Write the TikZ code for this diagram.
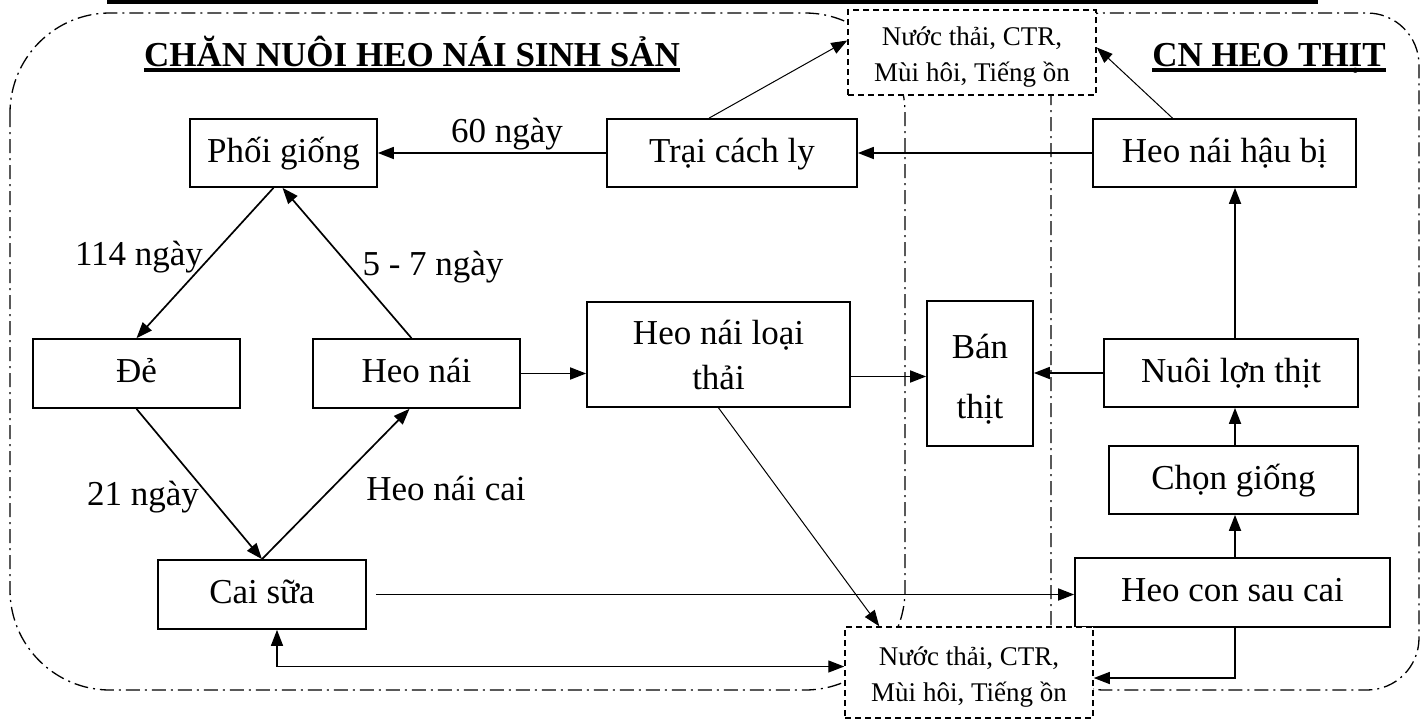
\documentclass[tikz,border=0pt]{standalone}
\usepackage{fontspec}
\setmainfont{Liberation Serif}
\usetikzlibrary{arrows.meta}
\begin{document}
\begin{tikzpicture}[x=1pt,y=-1pt,
  box/.style={draw, line width=1.7pt, fill=white, inner sep=0pt, font=\fontsize{35}{40}\selectfont, text height=26pt, text depth=8pt},
  mbox/.style={draw, line width=1.7pt, fill=white, inner sep=0pt, align=center},
  dbox/.style={draw, dash pattern=on 6pt off 4pt, line width=1.5pt, fill=white, inner sep=0pt, align=center, font=\fontsize{27}{36}\selectfont},
  region/.style={line width=1.3pt, dash pattern=on 14pt off 5pt on 2pt off 5pt},
  tip/.tip={Triangle[length=16pt,width=12pt]},
  arr/.style={line width=1.7pt, -tip},
  thinarr/.style={line width=1pt, -tip},
  lbl/.style={font=\fontsize{35}{40}\selectfont, inner sep=0pt},
  ttl/.style={font=\fontsize{35}{40}\selectfont\bfseries, inner sep=0pt, anchor=base},
]
\useasboundingbox (0,0) rectangle (1426,720);
\fill[white] (0,0) rectangle (1426,720);
% top bar
\fill (107,0) rectangle (1318,4);
% regions
\draw[region, rounded corners=100pt] (10,13) rectangle (905,690);
\draw[region, rounded corners=52pt] (1051,13) rectangle (1419,690);
% titles
\node[ttl] (t1) at (412,66) {CHĂN NUÔI HEO NÁI SINH SẢN};
\draw[line width=3.5pt] ([yshift=-4pt]t1.base west) -- ([yshift=-4pt]t1.base east);
\node[ttl] (t2) at (1269,66) {CN HEO THỊT};
\draw[line width=3.5pt] ([yshift=-4pt]t2.base west) -- ([yshift=-4pt]t2.base east);
% boxes
\node[box, minimum width=187pt, minimum height=68pt] (phoi) at (283.5,153) {Phối giống};
\node[box, minimum width=250pt, minimum height=68pt] (trai) at (732,153) {Trại cách ly};
\node[box, minimum width=263pt, minimum height=68pt] (haubi) at (1224.5,153) {Heo nái hậu bị};
\node[box, minimum width=207pt, minimum height=69pt] (de) at (136.5,373.5) {Đẻ};
\node[box, minimum width=207pt, minimum height=69pt] (heonai) at (416.5,373.5) {Heo nái};
\node[mbox, minimum width=263pt, minimum height=105pt, font=\fontsize{35}{45}\selectfont] (loai) at (718.5,354.5) {Heo nái loại\\thải};
\node[mbox, minimum width=106pt, minimum height=145pt, font=\fontsize{35}{60}\selectfont] (ban) at (980,373.5) {\rule{0pt}{35pt}Bán\\thịt};
\node[box, minimum width=254pt, minimum height=68pt] (nuoi) at (1231,373) {Nuôi lợn thịt};
\node[box, minimum width=249pt, minimum height=68pt] (chon) at (1233.5,480) {Chọn giống};
\node[box, minimum width=315pt, minimum height=69pt] (con) at (1232.5,592.5) {Heo con sau cai};
\node[box, minimum width=208pt, minimum height=69pt] (caisua) at (262,594.5) {Cai sữa};
\node[dbox, minimum width=248pt, minimum height=85pt] (topbox) at (972,52.5) {\rule{0pt}{28pt}Nước thải, CTR,\\Mùi hôi, Tiếng ồn};
\node[dbox, minimum width=248pt, minimum height=91pt] (botbox) at (969,672.5) {\rule{0pt}{28pt}Nước thải, CTR,\\Mùi hôi, Tiếng ồn};
% labels
\node[lbl] (l60) at (507,134) {60 ngày};
\node[lbl] (l114) at (139,257) {114 ngày};
\node[lbl] (l57) at (433,267) {5 - 7 ngày};
\node[lbl] (l21) at (143,497) {21 ngày};
\node[lbl] (lcai) at (446,488) {Heo nái cai};
% connectors
\coordinate (vx) at (1235,0);
\draw[arr] (trai.west) -- (phoi.east);
\draw[arr] (haubi.west) -- (trai.east);
\draw[arr] ([xshift=-10pt]phoi.south) -- (de.north);
\draw[arr] ([xshift=-5pt]heonai.north) -- ([xshift=-1pt]phoi.south);
\draw[arr] (de.south) -- (caisua.north);
\draw[arr] (caisua.north) -- ([xshift=-7pt]heonai.south);
\draw[arr] (heonai.east) -- (loai.west |- heonai.east);
\coordinate (la) at ([yshift=-22pt]loai.east);
\draw[arr] (la) -- (ban.west |- la);
\draw[arr] (nuoi.west) -- (ban.east |- nuoi.west);
\draw[arr] (nuoi.north -| vx) -- (haubi.south -| vx);
\draw[arr] (chon.north -| vx) -- (nuoi.south -| vx);
\draw[arr] (con.north -| vx) -- (chon.south -| vx);
\draw[arr] ([xshift=9pt]caisua.east) -- (con.west |- caisua.east);
\draw[thinarr] (loai.south) -- ([xshift=35pt]botbox.north west);
\draw[thinarr] ([xshift=-23pt]trai.north) -- ([yshift=12pt]topbox.west);
\draw[thinarr] ([xshift=-52pt]haubi.north) -- ([yshift=5pt]topbox.east);
\coordinate (cb) at (1235,678);
\draw[line width=1.4pt, -tip] (con.south -| vx) -- (cb) -- (botbox.east |- cb);
\draw[line width=1.4pt, tip-tip] ([yshift=6pt]botbox.west) -| ([xshift=15pt]caisua.south);
\end{tikzpicture}
\end{document}
